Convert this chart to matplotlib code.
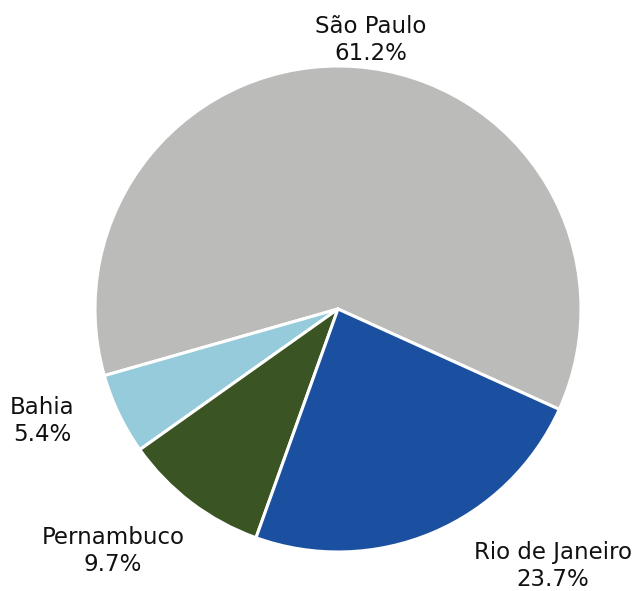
import numpy as np
import matplotlib
matplotlib.use("Agg")
import matplotlib.pyplot as plt

# share of total by state, in drawing order (counter-clockwise)
states = ["São Paulo", "Bahia", "Pernambuco", "Rio de Janeiro"]
shares = [61.2, 5.4, 9.7, 23.7]
colors = ["#BBBCBA", "#95CBDB", "#3A5423", "#1B50A1"]

# label centres in units of the pie radius, relative to the pie centre
label_xy = {
    "São Paulo": (0.136, 1.107),
    "Bahia": (-1.218, -0.461),
    "Pernambuco": (-0.926, -0.996),
    "Rio de Janeiro": (0.885, -1.058),
}

W, H = 640, 591
R = 243.0
cx, cy = 338.0, 309.0

fig = plt.figure(figsize=(W / 100, H / 100), dpi=100)
ax = fig.add_axes([0, 0, 1, 1])

ax.pie(shares, colors=colors, startangle=-24.4, counterclock=True,
       radius=1.0, wedgeprops=dict(edgecolor="white", linewidth=2.2))

for name, val in zip(states, shares):
    x, y = label_xy[name]
    ax.text(x, y, f"{name}\n{val:.1f}%", ha="center", va="center",
            multialignment="center", fontsize=16.5, family="DejaVu Sans",
            color="#111111", linespacing=1.2)

# pixel-exact limits so one data unit equals the radius in both directions
ax.set_xlim(-cx / R, (W - cx) / R)
ax.set_ylim(-(H - cy) / R, cy / R)
ax.set_aspect("auto")
ax.axis("off")

fig.savefig("out.png", dpi=100, facecolor="white")
